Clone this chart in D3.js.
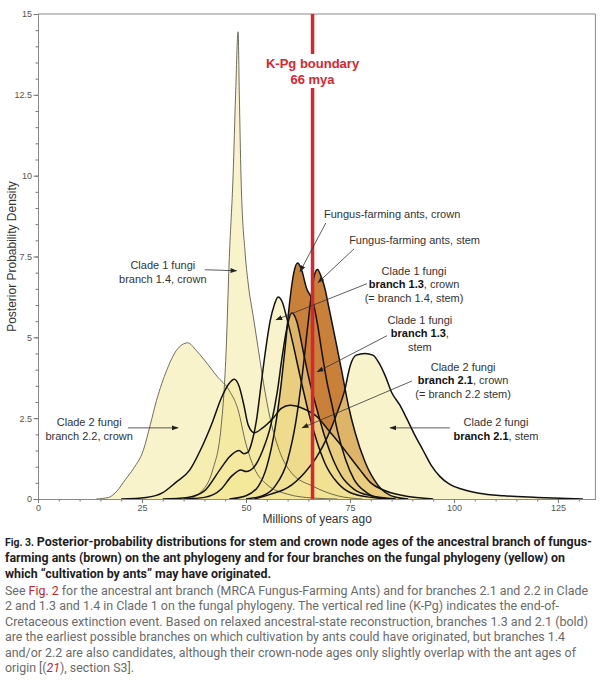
<!DOCTYPE html>
<html>
<head>
<meta charset="utf-8">
<script src="https://cdn.jsdelivr.net/npm/d3@7"></script>
<style>
body { margin: 0; background: #fff; }
</style>
</head>
<body>
<svg id="chart" width="610" height="680"></svg>
<script>
var svg = d3.select("#chart");

var xTicks = [0, 25, 50, 75, 100, 125];
var yTicks = [0, 2.5, 5, 7.5, 10, 12.5, 15];
var kpgAge = 66;

// ages (millions of years) and posterior densities
var ageAntCrown = [46, 50, 53, 55, 57, 58.5, 59.5, 60.6, 61.5, 62.4, 63.2, 64.6, 66.1, 67.2, 68.3, 69.5, 70.7, 72, 74, 76, 79, 83];
var denAntCrown = [0, 0.1, 0.4, 1.0, 2.2, 3.6, 4.8, 6.2, 7.0, 7.3, 7.15, 6.5, 6.1, 5.4, 4.5, 3.6, 2.9, 2.1, 1.2, 0.6, 0.2, 0];

var ageAntStem = [50, 54, 57, 60, 62, 63.5, 64.8, 65.8, 66.5, 67.2, 68, 69, 69.8, 71.4, 73.1, 74.6, 76.2, 78.6, 81.7, 85.8, 89];
var denAntStem = [0, 0.1, 0.4, 1.2, 2.4, 3.8, 5.3, 6.4, 6.95, 7.1, 6.9, 6.5, 6.0, 5.0, 3.9, 2.9, 2.07, 1.15, 0.43, 0.06, 0];

var age14Crown = [36, 39, 42, 44, 45.2, 46, 46.9, 47.5, 48.1, 48.4, 48.8, 49.8, 50.5, 51.8, 53, 54.2, 55.8, 58, 61, 66, 72, 78];
var den14Crown = [0, 0.2, 0.9, 2.2, 4.5, 7.5, 10, 12.5, 14.45, 12.5, 10, 7.6, 6.7, 5.6, 4.6, 3.6, 2.5, 1.5, 0.8, 0.4, 0.1, 0];

var age22Crown = [14, 17, 19, 21, 23, 25.3, 27, 28.5, 31, 33.3, 36, 38, 40, 43, 46, 48, 50, 52, 55, 60, 66, 72];
var den22Crown = [0, 0.05, 0.25, 0.6, 0.95, 1.5, 2.3, 3.05, 4.0, 4.6, 4.83, 4.6, 4.3, 3.8, 3.35, 2.8, 1.7, 0.95, 0.45, 0.15, 0.03, 0];

var age21Crown = [20, 26, 30, 33, 36.5, 39, 42, 44, 45.8, 47.2, 48.3, 49.5, 50.5, 52, 54, 56.5, 58.5, 60.6, 63.7, 67, 70, 72.6, 75, 77.4, 80, 83, 88, 95];
var den21Crown = [0, 0.05, 0.2, 0.5, 0.9, 1.5, 2.4, 3.1, 3.55, 3.7, 3.5, 2.9, 2.3, 2.05, 2.2, 2.5, 2.8, 2.9, 2.8, 2.55, 2.1, 1.7, 1.3, 0.9, 0.5, 0.28, 0.1, 0];

var age13Crown = [30, 36, 40, 43.7, 46, 48.3, 49.5, 50.5, 51.5, 52.6, 53.4, 54.6, 55.8, 56.8, 57.7, 58.7, 59.8, 61.3, 63, 65, 67, 69, 72, 75, 80, 85];
var den13Crown = [0, 0.05, 0.25, 0.9, 1.3, 1.5, 1.4, 1.45, 1.8, 2.5, 3.3, 4.5, 5.5, 6.0, 6.25, 6.1, 5.6, 4.8, 3.8, 2.7, 1.8, 1.1, 0.5, 0.2, 0.05, 0];

var age13Stem = [35, 40, 44, 46.5, 48.8, 50, 52, 54, 56, 57.5, 58.7, 59.7, 61, 62.2, 63.7, 65, 67, 69, 71, 73, 76, 80, 86];
var den13Stem = [0, 0.05, 0.3, 0.7, 0.9, 0.85, 1.0, 1.5, 2.3, 3.3, 4.4, 5.2, 5.75, 5.5, 4.6, 3.8, 2.8, 1.9, 1.2, 0.7, 0.3, 0.1, 0];

var age21Stem = [52, 56, 60, 64, 67, 69.5, 72, 73.8, 75, 76.5, 78.6, 80.5, 82, 83.5, 85, 87, 88.6, 90.5, 92.6, 94.5, 96.6, 99, 102, 106, 112, 120, 131];
var den21Stem = [0, 0.15, 0.35, 0.8, 1.3, 1.9, 2.7, 3.4, 4.1, 4.45, 4.5, 4.45, 4.2, 3.8, 3.3, 2.9, 2.5, 2.0, 1.5, 1.05, 0.7, 0.45, 0.3, 0.18, 0.1, 0.05, 0];

// annotation text, one entry per label (** marks bold)
var noteText = [
    ["Clade 1 fungi", "branch 1.4, crown"],
    ["Clade 2 fungi", "branch 2.2, crown"],
    ["Fungus-farming ants, crown"],
    ["Fungus-farming ants, stem"],
    ["Clade 1 fungi", "**branch 1.3**, crown", "(= branch 1.4, stem)"],
    ["Clade 1 fungi", "**branch 1.3**,", "stem"],
    ["Clade 2 fungi", "**branch 2.1**, crown", "(= branch 2.2 stem)"],
    ["Clade 2 fungi", "**branch 2.1**, stem"]
];

// caption ({...} marks red link text)
var captionBold = [
    "Posterior-probability distributions for stem and crown node ages of the ancestral branch of fungus-",
    "farming ants (brown) on the ant phylogeny and for four branches on the fungal phylogeny (yellow) on",
    "which \u201ccultivation by ants\u201d may have originated."
];
var captionPlain = [
    "See {Fig. 2} for the ancestral ant branch (MRCA Fungus-Farming Ants) and for branches 2.1 and 2.2 in Clade",
    "2 and 1.3 and 1.4 in Clade 1 on the fungal phylogeny. The vertical red line (K-Pg) indicates the end-of-",
    "Cretaceous extinction event. Based on relaxed ancestral-state reconstruction, branches 1.3 and 2.1 (bold)",
    "are the earliest possible branches on which cultivation by ants could have originated, but branches 1.4",
    "and/or 2.2 are also candidates, although their crown-node ages only slightly overlap with the ant ages of",
    "origin [({21}), section S3]."
];

// ---- layout ----
var x = d3.scaleLinear().domain([0, 134]).range([38, 595.4]);
var y = d3.scaleLinear().domain([0, 15]).range([499, 14]);

var brown = "#c98139";
var fungusFill = "#f4e898";
var red = "#d8262f";

function pairs(a, d) { return a.map((v, i) => [v, d[i]]); }

// fills: ants first, fungal layers over them
var series = [
    {pts: pairs(ageAntStem, denAntStem), ant: true, thin: false},
    {pts: pairs(ageAntCrown, denAntCrown), ant: true, thin: false},
    {pts: pairs(age22Crown, den22Crown), ant: false, thin: true},
    {pts: pairs(age14Crown, den14Crown), ant: false, thin: true},
    {pts: pairs(age21Stem, den21Stem), ant: false, thin: false},
    {pts: pairs(age21Crown, den21Crown), ant: false, thin: false},
    {pts: pairs(age13Stem, den13Stem), ant: false, thin: false},
    {pts: pairs(age13Crown, den13Crown), ant: false, thin: false}
];

var area = d3.area()
    .x(d => x(d[0]))
    .y0(y(0))
    .y1(d => y(d[1]))
    .curve(d3.curveMonotoneX);
var line = d3.line()
    .x(d => x(d[0]))
    .y(d => y(d[1]))
    .curve(d3.curveMonotoneX);

svg.append("g").selectAll("path")
    .data(series)
    .enter()
    .append("path")
    .attr("d", d => area(d.pts))
    .attr("fill", d => d.ant ? brown : fungusFill)
    .attr("fill-opacity", d => d.ant ? 1 : 0.5);

svg.append("g").selectAll("path")
    .data(series)
    .enter()
    .append("path")
    .attr("d", d => line(d.pts))
    .attr("fill", "none")
    .attr("stroke", d => d.thin ? "#4a4a3a" : "#111")
    .attr("stroke-width", d => d.thin ? 0.8 : 1.5);

// axes
var tickFont = "Liberation Sans, Arial, sans-serif";

svg.append("g")
    .attr("transform", `translate(${x(0)},0)`)
    .call(d3.axisLeft(y).tickValues(d3.range(0, 15.01, 0.5)).tickSize(2.5).tickSizeOuter(0).tickFormat(""));
svg.append("g")
    .attr("transform", `translate(${x(0)},0)`)
    .call(d3.axisLeft(y).tickValues(yTicks).tickSize(4.5).tickSizeOuter(0).tickPadding(1.5).tickFormat(d => d));

svg.append("g")
    .attr("transform", `translate(0,${y(0)})`)
    .call(d3.axisBottom(x).tickValues(d3.range(0, 131, 5)).tickSize(2.5).tickSizeOuter(0).tickFormat(""));
svg.append("g")
    .attr("transform", `translate(0,${y(0)})`)
    .call(d3.axisBottom(x).tickValues(xTicks).tickSize(4).tickSizeOuter(0).tickPadding(1.5).tickFormat(d => d));

svg.selectAll(".domain").attr("stroke", "#8a8a8a");
svg.selectAll(".tick line").attr("stroke", "#777");
svg.selectAll(".tick text")
    .attr("font-family", tickFont)
    .attr("font-size", 9)
    .attr("fill", "#555");

// top and right frame
svg.append("line")
    .attr("x1", x(0)).attr("x2", x(134))
    .attr("y1", y(15)).attr("y2", y(15))
    .attr("stroke", "#8a8a8a");
svg.append("line")
    .attr("x1", x(134)).attr("x2", x(134))
    .attr("y1", y(15)).attr("y2", y(0))
    .attr("stroke", "#8a8a8a");

svg.append("text")
    .attr("x", (x(0) + x(134)) / 2 + 0.5)
    .attr("y", 523)
    .attr("text-anchor", "middle")
    .attr("font-family", tickFont)
    .attr("font-size", 12)
    .attr("fill", "#333")
    .text("Millions of years ago");

svg.append("text")
    .attr("transform", `translate(16,${(y(0) + y(15)) / 2}) rotate(-90)`)
    .attr("text-anchor", "middle")
    .attr("font-family", tickFont)
    .attr("font-size", 12)
    .attr("fill", "#333")
    .text("Posterior Probability Density");

// K-Pg boundary
svg.append("line")
    .attr("x1", x(kpgAge)).attr("x2", x(kpgAge))
    .attr("y1", y(15)).attr("y2", y(0))
    .attr("stroke", red)
    .attr("stroke-width", 3.5);

svg.append("rect")
    .attr("x", x(kpgAge) - 50).attr("y", 54)
    .attr("width", 100).attr("height", 34)
    .attr("fill", "#fff");

svg.append("text")
    .attr("x", x(kpgAge))
    .attr("y", 68)
    .attr("text-anchor", "middle")
    .attr("font-family", tickFont)
    .attr("font-weight", "bold")
    .attr("font-size", 13)
    .attr("fill", red)
    .selectAll("tspan")
    .data(["K-Pg boundary", kpgAge + " mya"])
    .enter()
    .append("tspan")
    .attr("x", x(kpgAge))
    .attr("dy", (d, i) => i ? 16 : 0)
    .text(d => d);

// annotations (label spot and arrow ends in chart units)
var noteAt = [[30.0, 7.24], [12.3, 2.38], [68.75, 8.82], [74.8, 8.02], [90.4, 7.06], [91.8, 5.54], [102.2, 4.09], [110.1, 2.38]];
var noteAnchor = ["middle", "middle", "start", "start", "middle", "middle", "middle", "middle"];
var arrowFrom = [[40.1, 7.09], [21.6, 2.2], [69.2, 8.54], [76.0, 7.74], [79.1, 6.66], [83.9, 5.05], [89.9, 3.65], [99.0, 2.2]];
var arrowTo = [[47.8, 7.06], [33.7, 2.2], [63.0, 7.03], [67.3, 6.69], [57.2, 5.54], [67.1, 3.93], [63.5, 2.2], [84.6, 2.2]];

svg.append("defs").append("marker")
    .attr("id", "head")
    .attr("viewBox", "0 -3 8 6")
    .attr("refX", 7.5).attr("refY", 0)
    .attr("markerUnits", "userSpaceOnUse")
    .attr("markerWidth", 7).attr("markerHeight", 5)
    .attr("orient", "auto")
    .append("path")
    .attr("d", "M0,-3L8,0L0,3Z")
    .attr("fill", "#222");

svg.append("g").selectAll("line")
    .data(arrowFrom)
    .enter()
    .append("line")
    .attr("x1", d => x(d[0])).attr("y1", d => y(d[1]))
    .attr("x2", (d, i) => x(arrowTo[i][0])).attr("y2", (d, i) => y(arrowTo[i][1]))
    .attr("stroke", "#333")
    .attr("stroke-width", 0.8)
    .attr("marker-end", "url(#head)");

var notes = svg.append("g").selectAll("text")
    .data(noteText)
    .enter()
    .append("text")
    .attr("x", (d, i) => x(noteAt[i][0]))
    .attr("y", (d, i) => y(noteAt[i][1]))
    .attr("text-anchor", (d, i) => noteAnchor[i])
    .attr("font-family", tickFont)
    .attr("font-size", 11)
    .attr("fill", "#333");

notes.each(function(lines, i) {
    var t = d3.select(this);
    lines.forEach(function(ln, j) {
        var row = t.append("tspan")
            .attr("x", x(noteAt[i][0]))
            .attr("dy", j ? 13.6 : 4);
        ln.split("**").forEach(function(part, k) {
            if (!part) return;
            row.append("tspan")
                .attr("font-weight", k % 2 ? "bold" : null)
                .attr("fill", k % 2 ? "#111" : null)
                .text(part);
        });
    });
});

// caption
var capFont = "Roboto, sans-serif";
var boldWidths = [587, 560, 266];
var plainWidths = [583, 554, 583, 560, 571, 129];

var capBold = svg.append("g").selectAll("text")
    .data(captionBold)
    .enter()
    .append("text")
    .attr("x", 5)
    .attr("y", (d, i) => 546 + i * 15.8)
    .attr("font-family", capFont)
    .attr("font-weight", "bold")
    .attr("font-size", 12.5)
    .attr("fill", "#1e1e1e")
    .attr("textLength", (d, i) => boldWidths[i])
    .attr("lengthAdjust", "spacingAndGlyphs");

capBold.each(function(d, i) {
    var t = d3.select(this);
    if (i === 0) t.append("tspan").attr("font-size", 10.5).text("Fig. 3. ");
    t.append("tspan").text(d);
});

var capPlain = svg.append("g").selectAll("text")
    .data(captionPlain)
    .enter()
    .append("text")
    .attr("x", 5)
    .attr("y", (d, i) => 594.5 + i * 15.5)
    .attr("font-family", capFont)
    .attr("font-size", 12.5)
    .attr("fill", "#6a6a6a")
    .attr("textLength", (d, i) => plainWidths[i])
    .attr("lengthAdjust", "spacingAndGlyphs");

capPlain.each(function(d) {
    var t = d3.select(this);
    d.split(/[{}]/).forEach(function(part, k) {
        if (!part) return;
        var s = t.append("tspan").text(part);
        if (k % 2) {
            s.attr("fill", "#c0282e");
            if (/^\d+$/.test(part)) s.attr("font-style", "italic");
        }
    });
});
</script>
</body>
</html>
